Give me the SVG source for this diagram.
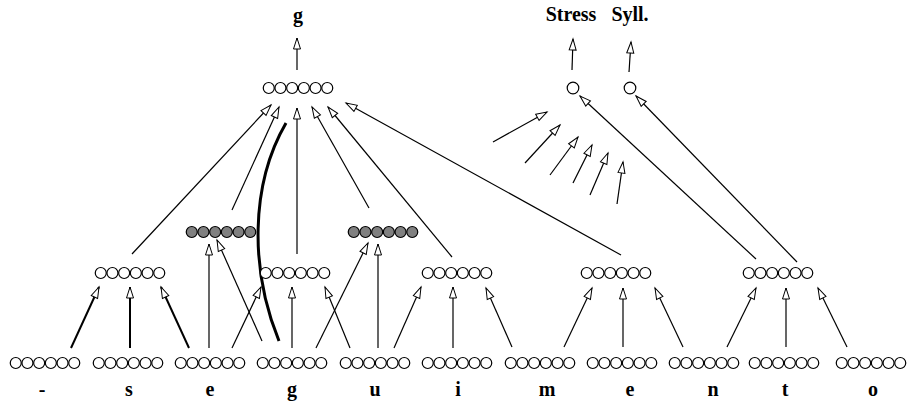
<svg xmlns="http://www.w3.org/2000/svg" xmlns:xlink="http://www.w3.org/1999/xlink" width="907" height="402" viewBox="0 0 907 402">
<style>
.c{fill:#fff;stroke:#000;stroke-width:1.2}
.s{fill:#808080;stroke:#000;stroke-width:1.2}
.l{fill:none;stroke:#000;stroke-width:1.2;marker-end:url(#ah)}
.t{stroke-width:2}
.cv{fill:none;stroke:#000;stroke-width:3}
text{font-family:"Liberation Serif","Times New Roman",serif;font-weight:bold;font-size:20px;text-anchor:middle;fill:#000}
</style>
<defs>
<marker id="ah" markerUnits="userSpaceOnUse" markerWidth="14" markerHeight="10" refX="11" refY="3.5" orient="auto" overflow="visible">
<path d="M0,0 L11,3.5 L0,7 z" fill="#fff" stroke="#000" stroke-width="1"/>
</marker>
<g id="row">
<circle class="c" cx="-29.25" cy="0" r="5.5"/><circle class="c" cx="-17.55" cy="0" r="5.5"/><circle class="c" cx="-5.85" cy="0" r="5.5"/><circle class="c" cx="5.85" cy="0" r="5.5"/><circle class="c" cx="17.55" cy="0" r="5.5"/><circle class="c" cx="29.25" cy="0" r="5.5"/>
</g>
<g id="srow">
<circle class="s" cx="-29.25" cy="0" r="5.5"/><circle class="s" cx="-17.55" cy="0" r="5.5"/><circle class="s" cx="-5.85" cy="0" r="5.5"/><circle class="s" cx="5.85" cy="0" r="5.5"/><circle class="s" cx="17.55" cy="0" r="5.5"/><circle class="s" cx="29.25" cy="0" r="5.5"/>
</g>
</defs>
<rect width="907" height="402" fill="#fff"/>

<g id="connectors">
<path class="l t" d="M71,348 L99,287"/>
<path class="l t" d="M130,348 L130,287"/>
<path class="l t" d="M189,348 L161,287"/>
<path class="l" d="M209,348 L209,244"/>
<path class="l" d="M262,341 L217,240"/>
<path class="l" d="M232,348 L261,287"/>
<path class="l" d="M292,348 L292,287"/>
<path class="l" d="M350,348 L325,287"/>
<path class="l" d="M316,348 L368,243"/>
<path class="l" d="M378,348 L378,244"/>
<path class="l" d="M394,348 L421,287"/>
<path class="l" d="M453,348 L453,287"/>
<path class="l" d="M512,347 L486,288"/>
<path class="l" d="M564,347 L592,288"/>
<path class="l" d="M623,347 L623,288"/>
<path class="l" d="M683,347 L655,288"/>
<path class="l" d="M727,347 L756,288"/>
<path class="l" d="M786,347 L786,288"/>
<path class="l" d="M847,347 L818,288"/>
<path class="cv" d="M279,341 C250,270 250,185 286,123"/>
<path class="l" d="M132,254 L271,105"/>
<path class="l" d="M232,210 L279,107"/>
<path class="l" d="M297,254 L297,108"/>
<path class="l" d="M369,208 L312,107"/>
<path class="l" d="M452,257 L328,107"/>
<path class="l" d="M621,255 L346,103"/>
<path class="l" d="M756,259 L580,96"/>
<path class="l" d="M797,262 L636,96"/>
<path class="l" d="M297,70 L297,38"/>
<path class="l" d="M572,70 L573,39"/>
<path class="l" d="M629,72 L631,42"/>
<path class="l" d="M493,142 L547,112"/>
<path class="l" d="M525,163 L560,125"/>
<path class="l" d="M550,175 L578,137"/>
<path class="l" d="M573,183 L592,145"/>
<path class="l" d="M590,195 L608,153"/>
<path class="l" d="M617,204 L623,162"/>
</g>

<g id="in-dash"><use xlink:href="#row" href="#row" x="45" y="363"/><text x="42" y="396">-</text></g>
<g id="in-s"><use xlink:href="#row" href="#row" x="128" y="363"/><text x="129" y="396">s</text></g>
<g id="in-e1"><use xlink:href="#row" href="#row" x="210" y="363"/><text x="210" y="396">e</text></g>
<g id="in-g"><use xlink:href="#row" href="#row" x="292" y="363"/><text x="292" y="396">g</text></g>
<g id="in-u"><use xlink:href="#row" href="#row" x="375" y="363"/><text x="375" y="396">u</text></g>
<g id="in-i"><use xlink:href="#row" href="#row" x="457" y="363"/><text x="458" y="396">i</text></g>
<g id="in-m"><use xlink:href="#row" href="#row" x="540" y="363"/><text x="547" y="396">m</text></g>
<g id="in-e2"><use xlink:href="#row" href="#row" x="622" y="363"/><text x="630" y="396">e</text></g>
<g id="in-n"><use xlink:href="#row" href="#row" x="704" y="363"/><text x="713" y="396">n</text></g>
<g id="in-t"><use xlink:href="#row" href="#row" x="784" y="363"/><text x="785" y="396">t</text></g>
<g id="in-o"><use xlink:href="#row" href="#row" x="871" y="363"/><text x="873" y="396">o</text></g>

<g id="mid1"><use xlink:href="#row" href="#row" x="130" y="273"/></g>
<g id="mid2"><use xlink:href="#row" href="#row" x="295" y="273"/></g>
<g id="mid3"><use xlink:href="#row" href="#row" x="457" y="273"/></g>
<g id="mid4"><use xlink:href="#row" href="#row" x="616" y="273"/></g>
<g id="mid5"><use xlink:href="#row" href="#row" x="778" y="273"/></g>

<g id="shadeA"><use xlink:href="#srow" href="#srow" x="221" y="232"/></g>
<g id="shadeB"><use xlink:href="#srow" href="#srow" x="383" y="232"/></g>

<g id="top"><use xlink:href="#row" href="#row" x="298" y="88"/></g>
<g id="stress"><circle class="c" cx="573" cy="88" r="5.8"/></g>
<g id="syll"><circle class="c" cx="630" cy="88" r="5.8"/></g>

<g id="out-g"><text x="298" y="22">g</text></g>
<g id="out-stress"><text x="571" y="21">Stress</text></g>
<g id="out-syll"><text x="630" y="21">Syll.</text></g>
</svg>
